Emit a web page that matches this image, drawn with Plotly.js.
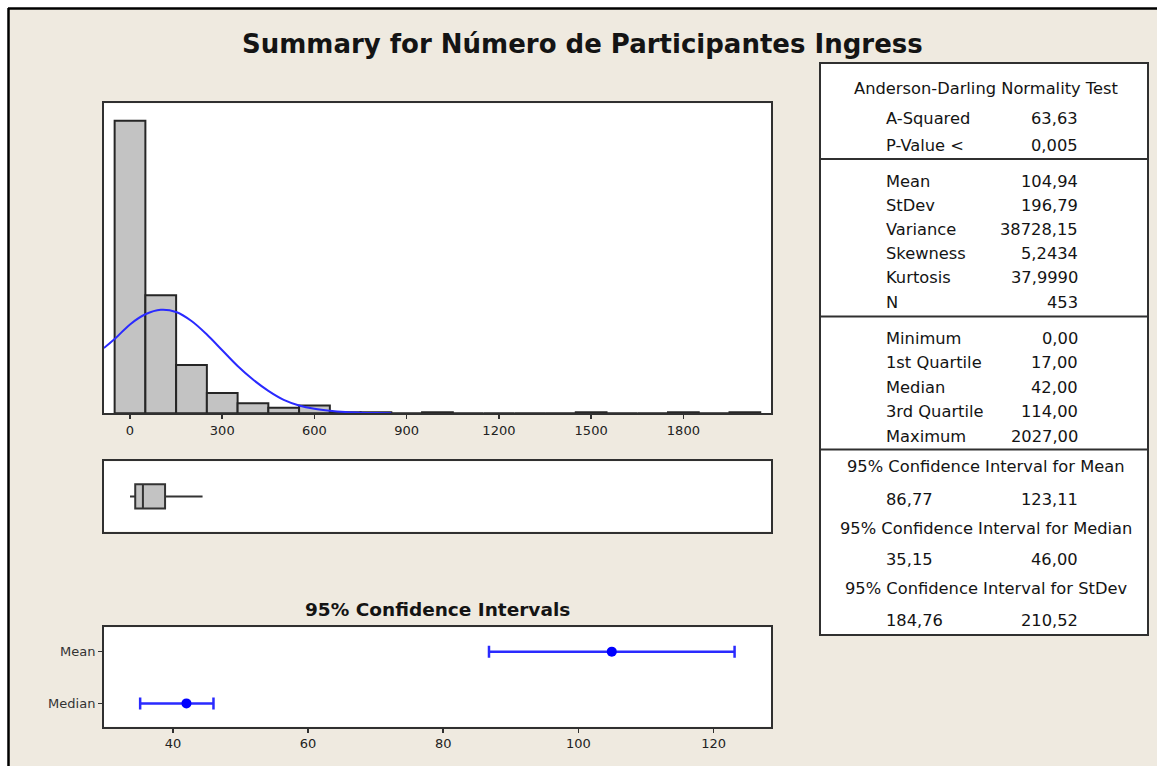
<!DOCTYPE html>
<html>
<head>
<meta charset="utf-8">
<script src="https://cdn.plot.ly/plotly-3.0.1.min.js"></script>
<style>html,body{margin:0;padding:0;background:#fff;}#chart{width:1157px;height:766px;}</style>
</head>
<body>
<div id="chart"></div>
<script>
// ---------------- DATA ----------------
const chartTitle = 'Summary for Número de Participantes Ingress';
const binCenters = [0,100,200,300,400,500,600,700,800,900,1000,1100,1200,1300,1400,1500,1600,1700,1800,1900,2000];
const binCounts  = [260,105,43,18,9,5,7,1,1,0,1,0,0,0,0,1,0,0,1,0,1];
const histTicks = [0,300,600,900,1200,1500,1800];

// fitted normal curve (x value, count)
const curveX = [-85,-50,0,50,100,150,200,250,300,350,400,450,500,550,600,650,700,750,800,850];
const curveY = [58,66,79,88,92,90,82,70,56,42,30,20,12,7,4,2.2,1.1,0.5,0.2,0.1];

// box plot statistics
const boxMin = 0, boxQ1 = 17, boxMedian = 42, boxQ3 = 114, boxWhiskerHigh = 236;

// 95% confidence intervals
const ciLabels = ['Mean','Median'];
const ciCenter = [104.94, 42.00];
const ciLower  = [86.77, 35.15];
const ciUpper  = [123.11, 46.00];
const ciTicks  = [40,60,80,100,120];

// stats table
const adTitle = 'Anderson-Darling Normality Test';
const adLabels = ['A-Squared','P-Value <'];
const adValues = ['63,63','0,005'];
const descLabels = ['Mean','StDev','Variance','Skewness','Kurtosis','N'];
const descValues = ['104,94','196,79','38728,15','5,2434','37,9990','453'];
const quartLabels = ['Minimum','1st Quartile','Median','3rd Quartile','Maximum'];
const quartValues = ['0,00','17,00','42,00','114,00','2027,00'];
const ciHeaders = ['95% Confidence Interval for Mean','95% Confidence Interval for Median','95% Confidence Interval for StDev'];
const ciLowText  = ['86,77','35,15','184,76'];
const ciHighText = ['123,11','46,00','210,52'];
const ciPanelTitle = '95% Confidence Intervals';

// ---------------- LAYOUT HELPERS ----------------
const W = 1157, H = 766;
const px = x => x / W;
const py = y => 1 - y / H;
const BEIGE = '#efeae0';
const FRAME = '#303030';
const FONT = 'DejaVu Sans, Verdana, sans-serif';
const BLUE = '#2a2aff';

const traces = [];
traces.push({
  type: 'bar', x: binCenters, y: binCounts, width: 100,
  marker: {color: '#c3c3c3', line: {color: '#262626', width: 2}},
  xaxis: 'x', yaxis: 'y', hoverinfo: 'x+y'
});
traces.push({
  type: 'scatter', mode: 'lines', x: curveX, y: curveY,
  line: {color: BLUE, width: 2, shape: 'spline', smoothing: 1},
  xaxis: 'x', yaxis: 'y', cliponaxis: true
});
traces.push({
  type: 'box', orientation: 'h', y: [0],
  lowerfence: [boxMin], q1: [boxQ1], median: [boxMedian], q3: [boxQ3], upperfence: [boxWhiskerHigh],
  boxpoints: false, whiskerwidth: 0, width: 0.69,
  fillcolor: '#c3c3c3', line: {color: '#333333', width: 2},
  xaxis: 'x2', yaxis: 'y2'
});
traces.push({
  type: 'scatter', mode: 'markers', x: ciCenter, y: ciLabels,
  marker: {color: '#0000ff', size: 10},
  error_x: {type: 'data', symmetric: false,
    array: ciUpper.map((u, i) => u - ciCenter[i]),
    arrayminus: ciLower.map((l, i) => ciCenter[i] - l),
    color: BLUE, thickness: 2.5, width: 6},
  xaxis: 'x3', yaxis: 'y3'
});

const xDom = [px(104), px(771)];
const frameAxis = {showline: true, mirror: true, linecolor: FRAME, linewidth: 2, showgrid: false, zeroline: false, fixedrange: true};

const layout = {
  width: W, height: H,
  margin: {l: 0, r: 0, t: 0, b: 0, pad: 0},
  paper_bgcolor: BEIGE, plot_bgcolor: '#ffffff',
  showlegend: false,
  font: {family: FONT, color: '#1a1a1a'},
  bargap: 0,
  xaxis: Object.assign({}, frameAxis, {
    domain: xDom, anchor: 'y', range: [-84.6, 2085],
    tickvals: histTicks, ticks: 'outside', ticklen: 4, tickwidth: 1.5, tickcolor: FRAME,
    tickfont: {family: FONT, size: 13, color: '#222'}
  }),
  yaxis: Object.assign({}, frameAxis, {
    domain: [py(413.3), py(103.3)], anchor: 'x', range: [0, 275.5],
    showticklabels: false, ticks: ''
  }),
  xaxis2: Object.assign({}, frameAxis, {
    domain: xDom, anchor: 'y2', range: [-84.6, 2085],
    showticklabels: false, ticks: ''
  }),
  yaxis2: Object.assign({}, frameAxis, {
    domain: [py(531.5), py(461.3)], anchor: 'x2', range: [-1, 1],
    showticklabels: false, ticks: ''
  }),
  xaxis3: Object.assign({}, frameAxis, {
    domain: xDom, anchor: 'y3', range: [29.8, 128.5],
    tickvals: ciTicks, ticks: 'outside', ticklen: 4, tickwidth: 1.5, tickcolor: FRAME,
    tickfont: {family: FONT, size: 13, color: '#222'}
  }),
  yaxis3: Object.assign({}, frameAxis, {
    domain: [py(726.7), py(627.3)], anchor: 'x3',
    type: 'category', categoryorder: 'array', categoryarray: ciLabels.slice().reverse(),
    range: [-0.45, 1.47],
    ticks: 'outside', ticklen: 4, tickwidth: 1.5, tickcolor: FRAME,
    tickfont: {family: FONT, size: 13, color: '#333'}
  }),
  shapes: [],
  annotations: []
};

// outer white margin + black frame
layout.shapes.push({type: 'rect', xref: 'paper', yref: 'paper', x0: 0, x1: px(8), y0: 0, y1: 1, fillcolor: '#ffffff', line: {width: 0}, layer: 'above'});
layout.shapes.push({type: 'rect', xref: 'paper', yref: 'paper', x0: 0, x1: 1, y0: py(8), y1: 1, fillcolor: '#ffffff', line: {width: 0}, layer: 'above'});
layout.shapes.push({type: 'line', xref: 'paper', yref: 'paper', x0: px(8), x1: 1, y0: py(8.5), y1: py(8.5), line: {color: '#000', width: 2.5}, layer: 'above'});
layout.shapes.push({type: 'line', xref: 'paper', yref: 'paper', x0: px(8.5), x1: px(8.5), y0: 0, y1: py(8), line: {color: '#000', width: 2.5}, layer: 'above'});

// stats table box
layout.shapes.push({type: 'rect', xref: 'paper', yref: 'paper', x0: px(820), x1: px(1148), y0: py(635), y1: py(63), fillcolor: '#ffffff', line: {color: FRAME, width: 2}, layer: 'above'});
[159, 316.5, 449.5].forEach(yy => layout.shapes.push({type: 'line', xref: 'paper', yref: 'paper', x0: px(820), x1: px(1148), y0: py(yy), y1: py(yy), line: {color: FRAME, width: 2}, layer: 'above'}));

function ann(text, x, y, anchor, size, bold) {
  layout.annotations.push({
    text: bold ? '<b>' + text + '</b>' : text,
    xref: 'paper', yref: 'paper', x: px(x), y: py(y),
    xanchor: anchor, yanchor: 'middle', showarrow: false,
    font: {family: FONT, size: size, color: '#141414'}
  });
}

// titles
ann(chartTitle, 582, 44, 'center', 26, true);
ann(ciPanelTitle, 437.5, 609, 'center', 18.5, true);

// table text
const LX = 884, RX = 1080, CX = 986, TS = 16.3;
ann(adTitle, CX, 89, 'center', TS);
const adY = [118, 145];
adLabels.forEach((t, i) => { ann(t, LX, adY[i], 'left', TS); ann(adValues[i], RX, adY[i], 'right', TS); });
const descY0 = 181, descStep = 24.2;
descLabels.forEach((t, i) => { const y = descY0 + i * descStep; ann(t, LX, y, 'left', TS); ann(descValues[i], RX, y, 'right', TS); });
const quartY0 = 338.5, quartStep = 24.4;
quartLabels.forEach((t, i) => { const y = quartY0 + i * quartStep; ann(t, LX, y, 'left', TS); ann(quartValues[i], RX, y, 'right', TS); });
const hdrY = [466, 528, 588], valY = [499, 559, 620];
ciHeaders.forEach((t, i) => { ann(t, CX, hdrY[i], 'center', TS); ann(ciLowText[i], LX, valY[i], 'left', TS); ann(ciHighText[i], RX, valY[i], 'right', TS); });

Plotly.newPlot('chart', traces, layout, {staticPlot: true, displayModeBar: false});
</script>
</body>
</html>
